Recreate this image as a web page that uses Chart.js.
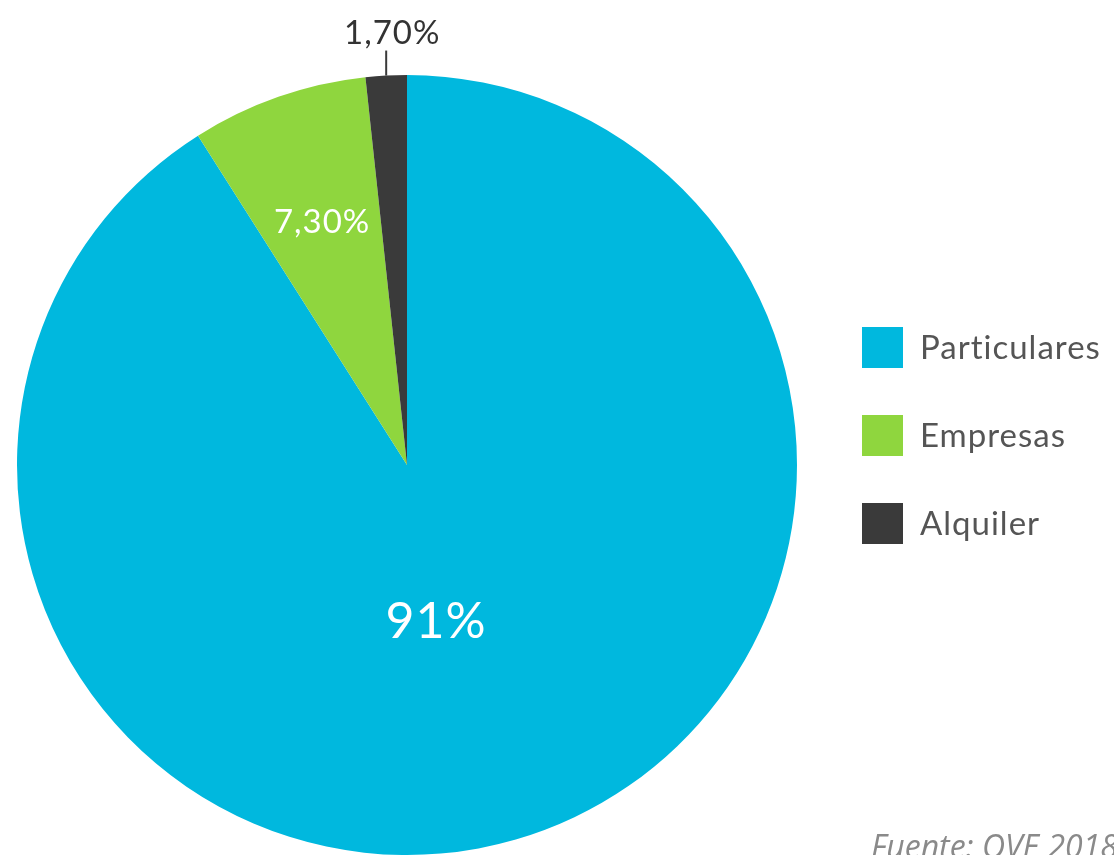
<!DOCTYPE html>
<html>
<head>
<meta charset="utf-8">
<script src="https://cdn.jsdelivr.net/npm/chart.js@4"></script>
<style>
html,body{margin:0;padding:0;background:#fff;}
#wrap{position:relative;width:1114px;height:855px;overflow:hidden;}
</style>
</head>
<body>
<div id="wrap">
<canvas id="c" width="1114" height="855"></canvas>
</div>
<script>
const categories = ["Particulares", "Empresas", "Alquiler"];
const values = [91, 7.3, 1.7];
const valueLabels = ["91%", "7,30%", "1,70%"];
const colors = ["#00B8DE", "#8FD63E", "#3A3A3A"];
const sourceText = "Fuente: OVE 2018";

const labelPlugin = {
  id: 'labelPlugin',
  afterDatasetsDraw(chart) {
    const ctx = chart.ctx;
    const meta = chart.getDatasetMeta(0);
    ctx.save();
    ctx.textAlign = 'center';
    ctx.textBaseline = 'middle';
    meta.data.forEach((arc, i) => {
      const p = arc.getProps(['x','y','startAngle','endAngle','outerRadius'], true);
      const mid = (p.startAngle + p.endAngle) / 2;
      if (i === 0) {
        ctx.fillStyle = '#fff';
        ctx.font = '50px Lato';
        ctx.letterSpacing = '1px';
        const r = p.outerRadius * 0.41;
        ctx.fillText(valueLabels[i], p.x + r * Math.cos(mid + 0.1), p.y + r * Math.sin(mid + 0.1));
      } else if (i === 1) {
        ctx.fillStyle = '#fff';
        ctx.font = '33px Lato';
        ctx.letterSpacing = '1px';
        const r = p.outerRadius * 0.66;
        ctx.fillText(valueLabels[i], p.x + r * Math.cos(mid), p.y + r * Math.sin(mid));
      } else {
        const R = p.outerRadius;
        const lx = p.x + R * Math.cos(mid);
        const ly = p.y + R * Math.sin(mid);
        ctx.strokeStyle = '#3A3A3A';
        ctx.lineWidth = 2;
        ctx.beginPath();
        ctx.moveTo(lx, ly);
        ctx.lineTo(lx, ly - 25);
        ctx.stroke();
        ctx.fillStyle = '#333';
        ctx.font = '33px Lato';
        ctx.letterSpacing = '1px';
        ctx.fillText(valueLabels[i], lx + 6, ly - 42);
      }
    });
    // legend
    ctx.textAlign = 'left';
    ctx.font = '33px Lato';
    ctx.letterSpacing = '1px';
    categories.forEach((c, i) => {
      const y = 327 + i * 88;
      ctx.fillStyle = colors[i];
      ctx.fillRect(862, y, 41, 41);
      ctx.fillStyle = '#555';
      ctx.fillText(c, 920, y + 21);
    });
    // source
    ctx.letterSpacing = '0px';
    ctx.textBaseline = 'alphabetic';
    ctx.font = 'italic 32px "Open Sans"';
    ctx.fillStyle = '#8a8a8a';
    ctx.fillText(sourceText, 871, 858);
    ctx.restore();
  }
};

new Chart(document.getElementById('c'), {
  type: 'pie',
  data: {
    labels: categories,
    datasets: [{ data: values, backgroundColor: colors, borderWidth: 0 }]
  },
  options: {
    responsive: false,
    animation: false,
    layout: { padding: { left: 17, top: 75, right: 317, bottom: 0 } },
    plugins: { legend: { display: false }, tooltip: { enabled: false } }
  },
  plugins: [labelPlugin]
});
</script>
</body>
</html>
